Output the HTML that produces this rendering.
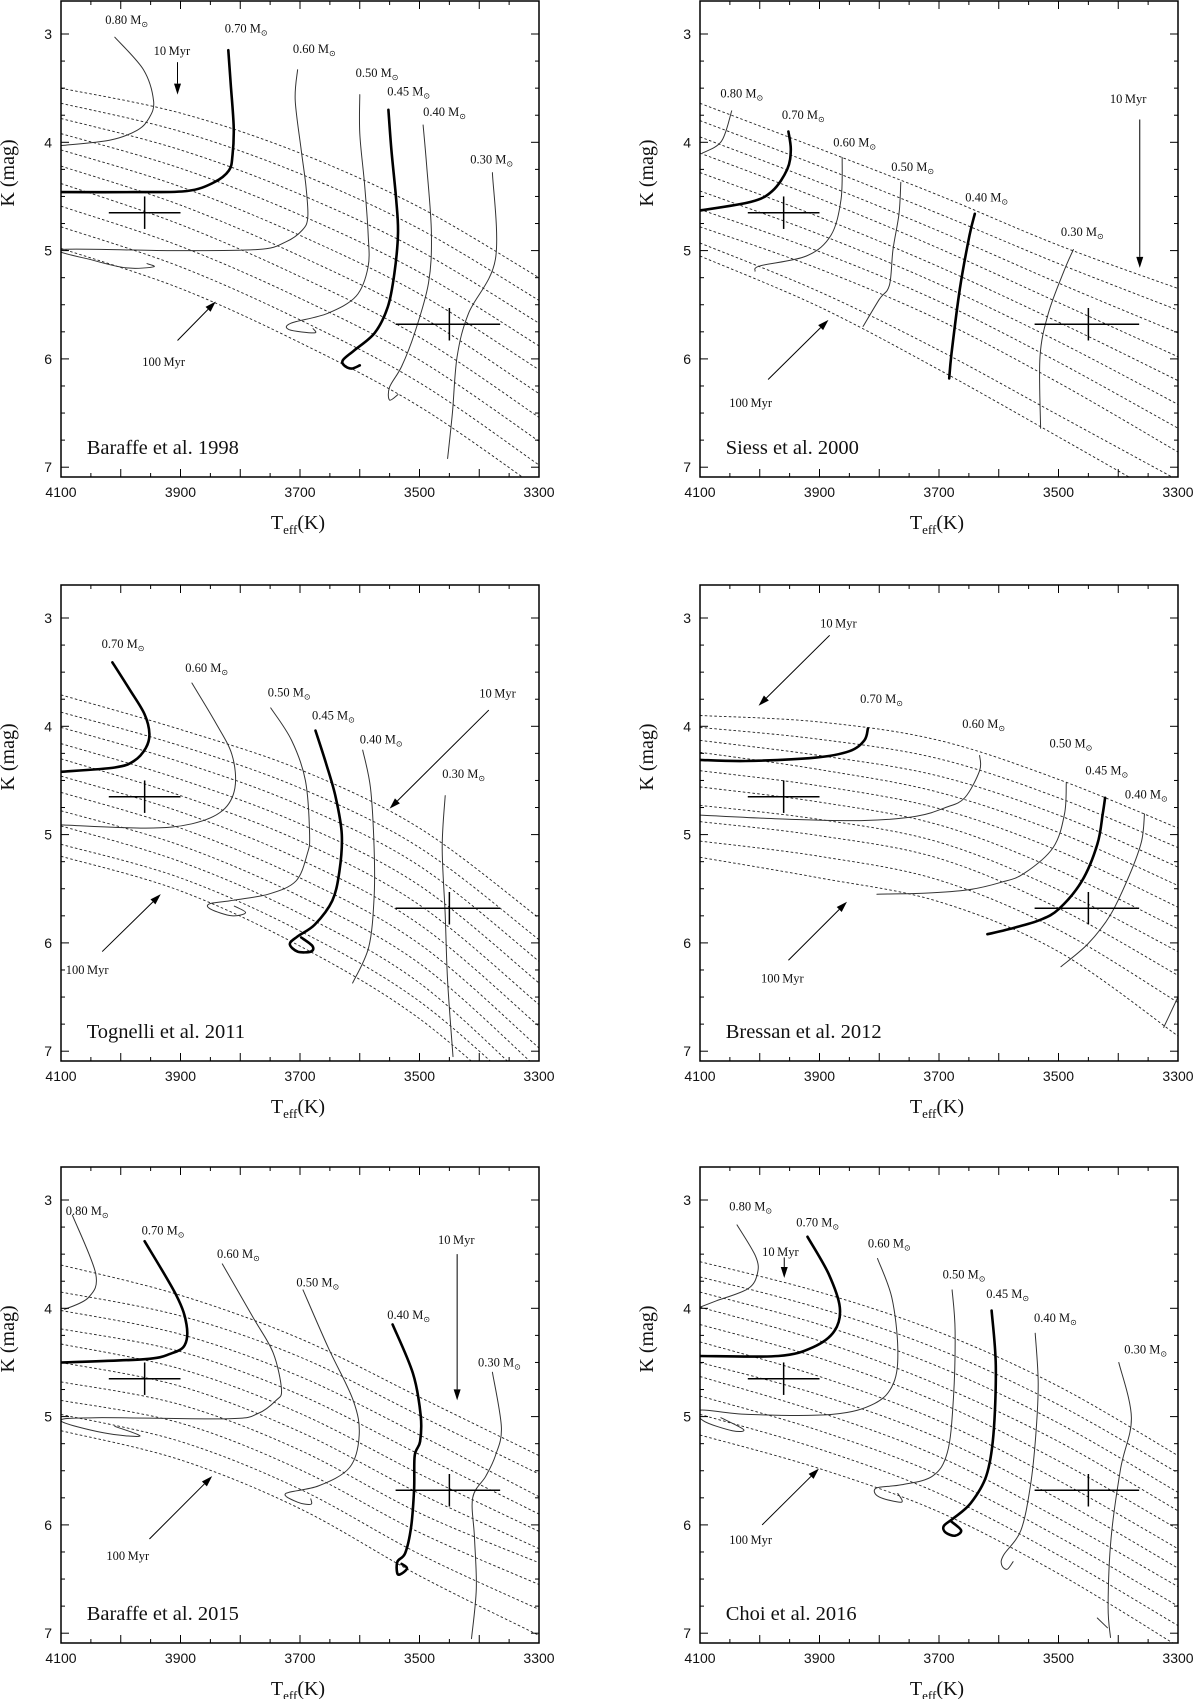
<!DOCTYPE html>
<html><head><meta charset="utf-8"><title>PMS tracks</title>
<style>
html,body{margin:0;padding:0;background:#fff;}
svg{display:block;}
.tick{font-family:"Liberation Sans",sans-serif;font-size:14px;fill:#111;}
.ser{font-family:"Liberation Serif",serif;fill:#111;}
</style></head>
<body>
<svg id="fig" width="1200" height="1699" viewBox="0 0 1200 1699" xmlns="http://www.w3.org/2000/svg"></svg>
<script>
const teffGrid = [4100, 3900, 3700, 3500, 3300];
const crossA = [3960, 4.65, 4020, 3900, 4.50, 4.80];
const crossB = [3450, 5.68, 3540, 3365, 5.53, 5.83];

const b98Iso = [
[3.50,3.73,4.10,4.60,5.25],[3.64,3.90,4.29,4.80,5.46],[3.78,4.07,4.48,5.00,5.67],
[3.92,4.24,4.67,5.20,5.88],[4.07,4.41,4.86,5.40,6.10],[4.22,4.58,5.05,5.60,6.32],
[4.38,4.76,5.24,5.80,6.54],[4.59,4.96,5.44,6.01,6.76],[4.78,5.15,5.64,6.22,6.98],
[4.98,5.35,5.85,6.44,7.20]];
const b98Tracks = [
{m:"0.80",w:1,p:[[4010,3.03],[3962,3.33],[3945,3.62],[3953,3.78],[3973,3.89],[4018,3.98],[4099,4.03]],l:[4026,2.87]},
{m:"0.70",w:2.6,p:[[3820,3.15],[3816,3.46],[3811,3.86],[3813,4.12],[3819,4.26],[3844,4.37],[3889,4.45],[3978,4.46],[4100,4.46]],l:[3826,2.95]},
{m:"0.60",w:1,p:[[3704,3.33],[3708,3.61],[3698,4.07],[3690,4.41],[3687,4.69],[3696,4.81],[3724,4.92],[3771,4.99],[3922,5.0],[4100,4.99],[4046,5.09],[3990,5.16],[3945,5.15],[3956,5.12]],l:[3712,3.14]},
{m:"0.50",w:1,p:[[3600,3.56],[3600,3.92],[3592,4.38],[3586,4.84],[3586,5.15],[3606,5.42],[3654,5.58],[3715,5.67],[3718,5.73],[3676,5.76],[3678,5.72]],l:[3607,3.36]},
{m:"0.45",w:2.6,p:[[3552,3.70],[3547,4.07],[3539,4.53],[3536,4.84],[3542,5.21],[3553,5.52],[3575,5.76],[3609,5.92],[3628,6.01],[3626,6.06],[3614,6.09],[3600,6.06]],l:[3554,3.53]},
{m:"0.40",w:1,p:[[3494,3.84],[3488,4.22],[3480,4.84],[3485,5.30],[3508,5.76],[3530,6.07],[3550,6.26],[3550,6.38],[3536,6.33]],l:[3494,3.72]},
{m:"0.30",w:1,p:[[3378,4.28],[3373,5.08],[3418,5.58],[3437,5.98],[3445,6.50],[3453,6.92]],l:[3415,4.16]}];
const b98Arrows = [{t:"10",a:[3905,3.26],b:[3905,3.56],l:[3945,3.15]},{t:"100",a:[3905,5.83],b:[3841,5.47],l:[3964,6.02]}];

const s00Iso = [
[3.64,4.06,4.49,4.95,5.35],[3.80,4.22,4.66,5.12,5.55],[3.95,4.37,4.82,5.30,5.76],
[4.10,4.52,4.98,5.48,5.98],[4.28,4.69,5.15,5.66,6.20],[4.45,4.85,5.31,5.84,6.42],
[4.62,5.01,5.47,6.03,6.64],[4.78,5.17,5.64,6.22,6.86],[4.93,5.38,5.92,6.52,7.12],
[5.05,5.52,6.10,6.72,7.35]];
const s00Tracks = [
{m:"0.80",w:1,p:[[4047,3.71],[4064,3.99],[4096,4.10]],l:[4066,3.55]},
{m:"0.70",w:2.6,p:[[3952,3.90],[3948,4.07],[3954,4.25],[3979,4.45],[4015,4.55],[4100,4.63]],l:[3963,3.75]},
{m:"0.60",w:1,p:[[3862,4.14],[3864,4.53],[3881,4.86],[3922,5.05],[3999,5.14],[4008,5.19]],l:[3877,4.0]},
{m:"0.50",w:1,p:[[3764,4.37],[3767,4.66],[3777,4.99],[3783,5.32],[3800,5.45],[3827,5.70]],l:[3780,4.23]},
{m:"0.40",w:2.6,p:[[3640,4.66],[3649,4.86],[3665,5.35],[3679,5.95],[3683,6.18]],l:[3656,4.51]},
{m:"0.30",w:1,p:[[3475,4.99],[3491,5.19],[3517,5.58],[3531,5.98],[3530,6.64]],l:[3496,4.83]}];
const s00Arrows = [{t:"10",a:[3364,3.79],b:[3364,5.16],l:[3414,3.59]},{t:"100",a:[3986,6.19],b:[3885,5.64],l:[4051,6.40]}];

const t11Iso = [
[3.71,4.03,4.40,4.94,5.77],[3.87,4.18,4.57,5.12,5.97],[4.01,4.33,4.73,5.29,6.17],
[4.16,4.49,4.90,5.47,6.37],[4.30,4.64,5.06,5.65,6.57],[4.46,4.79,5.23,5.83,6.77],
[4.61,4.94,5.40,6.01,6.97],[4.78,5.10,5.57,6.19,7.17],[4.92,5.25,5.73,6.37,7.37],
[5.09,5.40,5.89,6.54,7.50],[5.20,5.52,6.03,6.70,7.65]];
const t11Tracks = [
{m:"0.70",w:2.6,p:[[4014,3.41],[3984,3.67],[3960,3.89],[3952,4.07],[3958,4.20],[3978,4.32],[4010,4.38],[4100,4.42]],l:[4032,3.24]},
{m:"0.60",w:1,p:[[3881,3.60],[3843,3.95],[3814,4.26],[3809,4.57],[3830,4.78],[3881,4.90],[3958,4.94],[4100,4.91]],l:[3892,3.46]},
{m:"0.50",w:1,p:[[3749,3.83],[3714,4.13],[3691,4.50],[3684,5.00],[3688,5.18],[3707,5.43],[3753,5.55],[3817,5.61],[3852,5.64],[3849,5.69],[3814,5.75],[3791,5.72],[3810,5.66]],l:[3754,3.69]},
{m:"0.45",w:2.6,p:[[3674,4.04],[3656,4.35],[3640,4.66],[3630,5.00],[3634,5.34],[3646,5.61],[3675,5.83],[3704,5.94],[3717,6.01],[3704,6.08],[3682,6.08],[3679,6.03],[3698,5.95]],l:[3680,3.90]},
{m:"0.40",w:1,p:[[3595,4.22],[3582,4.57],[3576,5.12],[3576,5.58],[3585,6.04],[3612,6.37]],l:[3600,4.12]},
{m:"0.30",w:1,p:[[3457,4.64],[3462,5.12],[3457,5.74],[3453,6.35],[3444,7.05]],l:[3462,4.44]}];
const t11Arrows = [{t:"10",a:[3384,3.85],b:[3550,4.76],l:[3400,3.69]},{t:"100",a:[4031,6.08],b:[3933,5.55],l:[4092,6.24]}];

const b12Iso = [
[3.90,3.96,4.13,4.49,4.94],[4.01,4.12,4.30,4.66,5.12],[4.13,4.27,4.46,4.82,5.30],
[4.24,4.40,4.61,4.98,5.47],[4.41,4.55,4.76,5.15,5.67],[4.56,4.70,4.91,5.33,5.87],
[4.73,4.86,5.07,5.51,6.08],[4.88,5.01,5.22,5.68,6.30],[5.06,5.20,5.42,5.88,6.55],
[5.21,5.40,5.62,6.08,6.86]];
const b12Tracks = [
{m:"0.70",w:2.6,p:[[3819,4.02],[3825,4.13],[3850,4.23],[3908,4.29],[4024,4.32],[4100,4.31]],l:[3832,3.75]},
{m:"0.60",w:1,p:[[3632,4.27],[3632,4.41],[3657,4.66],[3689,4.75],[3738,4.83],[3825,4.87],[3947,4.86],[4100,4.82]],l:[3661,3.98]},
{m:"0.50",w:1,p:[[3487,4.52],[3490,4.81],[3509,5.12],[3558,5.36],[3596,5.44],[3651,5.51],[3722,5.54],[3804,5.55]],l:[3515,4.16]},
{m:"0.45",w:2.6,p:[[3422,4.66],[3426,4.81],[3435,5.09],[3461,5.43],[3500,5.69],[3532,5.79],[3574,5.86],[3619,5.92]],l:[3455,4.41]},
{m:"0.40",w:1,p:[[3356,4.81],[3361,5.06],[3381,5.37],[3413,5.74],[3451,6.01],[3496,6.22]],l:[3389,4.63]},
{m:"",w:1,p:[[3324,6.78],[3300,6.50]],l:null}];
const b12Arrows = [{t:"10",a:[3883,3.16],b:[4002,3.81],l:[3899,3.04]},{t:"100",a:[3952,6.16],b:[3854,5.62],l:[3998,6.32]}];

const b15Iso = [
[3.60,3.88,4.28,4.82,5.36],[3.85,4.07,4.45,4.99,5.53],[4.02,4.24,4.63,5.17,5.74],
[4.19,4.40,4.80,5.35,5.90],[4.33,4.56,4.97,5.53,6.06],[4.50,4.72,5.14,5.71,6.22],
[4.68,4.89,5.31,5.89,6.35],[4.85,5.06,5.49,6.07,6.55],[4.98,5.23,5.67,6.27,6.78],
[5.13,5.40,5.85,6.47,7.02]];
const b15Tracks = [
{m:"0.80",w:1,p:[[4081,3.14],[4042,3.68],[4054,3.90],[4094,4.01]],l:[4092,3.10]},
{m:"0.70",w:2.6,p:[[3960,3.38],[3907,3.88],[3890,4.15],[3893,4.34],[3917,4.42],[3960,4.47],[4100,4.50]],l:[3965,3.28]},
{m:"0.60",w:1,p:[[3830,3.59],[3778,4.09],[3745,4.41],[3731,4.75],[3740,4.85],[3770,4.97],[3820,5.02],[4042,5.01],[4100,5.04],[4029,5.15],[3968,5.18],[4010,5.09]],l:[3839,3.50]},
{m:"0.50",w:1,p:[[3695,3.83],[3653,4.36],[3611,4.85],[3601,5.17],[3617,5.47],[3669,5.64],[3724,5.71],[3704,5.79],[3682,5.81],[3682,5.76]],l:[3706,3.76]},
{m:"0.40",w:2.6,p:[[3545,4.15],[3511,4.60],[3498,4.99],[3499,5.23],[3508,5.36],[3509,5.67],[3514,6.02],[3524,6.26],[3537,6.34],[3537,6.45],[3530,6.45],[3521,6.40],[3530,6.36]],l:[3554,4.06]},
{m:"0.30",w:1,p:[[3378,4.59],[3363,5.10],[3373,5.36],[3389,5.55],[3411,5.75],[3408,6.12],[3405,6.59],[3413,7.05]],l:[3402,4.50]}];
const b15Arrows = [{t:"10",a:[3437,3.50],b:[3437,4.85],l:[3469,3.36]},{t:"100",a:[3952,6.13],b:[3847,5.55],l:[4024,6.28]}];

const c16Iso = [
[3.57,3.85,4.22,4.72,5.36],[3.71,4.00,4.38,4.89,5.52],[3.85,4.15,4.54,5.06,5.70],
[3.99,4.30,4.71,5.23,5.87],[4.15,4.46,4.87,5.41,6.04],[4.31,4.63,5.04,5.59,6.22],
[4.50,4.80,5.20,5.76,6.40],[4.63,4.96,5.37,5.94,6.57],[4.81,5.13,5.54,6.11,6.75],
[4.98,5.30,5.71,6.28,6.93],[5.17,5.48,5.88,6.45,7.12]];
const c16Tracks = [
{m:"0.80",w:1,p:[[4038,3.23],[4007,3.52],[4004,3.68],[4020,3.82],[4072,3.93],[4100,3.99]],l:[4051,3.06]},
{m:"0.70",w:2.6,p:[[3920,3.34],[3885,3.68],[3866,3.99],[3875,4.21],[3911,4.36],[3969,4.44],[4100,4.44]],l:[3939,3.21]},
{m:"0.60",w:1,p:[[3803,3.54],[3779,3.90],[3769,4.37],[3776,4.69],[3808,4.88],[3879,4.98],[4020,4.98],[4100,4.94],[4094,5.04],[4046,5.13],[4027,5.12],[4065,5.01]],l:[3819,3.40]},
{m:"0.50",w:1,p:[[3678,3.83],[3673,4.21],[3676,4.85],[3686,5.33],[3711,5.55],[3763,5.63],[3805,5.66],[3801,5.74],[3763,5.79],[3769,5.71]],l:[3694,3.69]},
{m:"0.45",w:2.6,p:[[3612,4.02],[3605,4.53],[3609,5.17],[3621,5.55],[3647,5.80],[3676,5.94],[3692,6.01],[3689,6.07],[3673,6.10],[3663,6.05],[3679,5.97]],l:[3621,3.87]},
{m:"0.40",w:1,p:[[3539,4.23],[3534,4.69],[3538,5.17],[3547,5.64],[3563,6.05],[3592,6.28],[3595,6.37],[3586,6.41],[3576,6.34]],l:[3541,4.09]},
{m:"0.30",w:1,p:[[3399,4.50],[3378,5.01],[3396,5.48],[3412,6.12],[3417,6.75],[3413,7.04]],l:[3390,4.38]},
{m:"",w:1,p:[[3435,6.86],[3418,6.95]],l:null}];
const c16Arrows = [{t:"10",a:[3959,3.53],b:[3959,3.72],l:[3996,3.47]},{t:"100",a:[3996,6.00],b:[3901,5.48],l:[4051,6.13]}];

const panelTitles = ["Baraffe et al.  1998","Siess et al.  2000","Tognelli et al.  2011","Bressan et al.  2012","Baraffe et al.  2015","Choi et al.  2016"];
const panelKeys = ["baraffe-1998","siess-2000","tognelli-2011","bressan-2012","baraffe-2015","choi-2016"];
const isoSets = [b98Iso, s00Iso, t11Iso, b12Iso, b15Iso, c16Iso];
const trackSets = [b98Tracks, s00Tracks, t11Tracks, b12Tracks, b15Tracks, c16Tracks];
const arrowSets = [b98Arrows, s00Arrows, t11Arrows, b12Arrows, b15Arrows, c16Arrows];
const xTickLabels = [4100, 3900, 3700, 3500, 3300];
const yTickLabels = [3, 4, 5, 6, 7];

const NS = "http://www.w3.org/2000/svg";
const svg = document.getElementById("fig");
const W = 478, H = 476;
function mk(tag, attrs, parent) {
  const e = document.createElementNS(NS, tag);
  for (const k in attrs) e.setAttribute(k, attrs[k]);
  parent.appendChild(e);
  return e;
}
function catmull(pts) {
  if (pts.length < 3) return "M" + pts.map(p => p[0].toFixed(1) + "," + p[1].toFixed(1)).join("L");
  let d = "M" + pts[0][0].toFixed(1) + "," + pts[0][1].toFixed(1);
  for (let i = 0; i < pts.length - 1; i++) {
    const p0 = pts[i - 1] || pts[i], p1 = pts[i], p2 = pts[i + 1], p3 = pts[i + 2] || p2;
    const c1 = [p1[0] + (p2[0] - p0[0]) / 6, p1[1] + (p2[1] - p0[1]) / 6];
    const c2 = [p2[0] - (p3[0] - p1[0]) / 6, p2[1] - (p3[1] - p1[1]) / 6];
    d += "C" + c1[0].toFixed(1) + "," + c1[1].toFixed(1) + " " + c2[0].toFixed(1) + "," + c2[1].toFixed(1) + " " + p2[0].toFixed(1) + "," + p2[1].toFixed(1);
  }
  return d;
}

for (let pi = 0; pi < 6; pi++) {
  const left = pi % 2 === 0 ? 61 : 700;
  const top = [1, 585, 1167][Math.floor(pi / 2)];
  const X = T => left + (4100 - T) / 800 * W;
  const Y = K => top + 33 + (K - 3) * 108.3;
  const g = mk("g", {}, svg);
  
  
  const clipId = "clip" + pi;
  const cp = mk("clipPath", {id: clipId}, g);
  mk("rect", {x: left, y: top, width: W, height: H}, cp);
  const plot = mk("g", {"clip-path": "url(#" + clipId + ")"}, g);

  isoSets[pi].forEach((iso, k) => {
    const pts = iso.map((K, j) => [X(teffGrid[j]), Y(K)]);
    const p = mk("path", {d: catmull(pts), fill: "none", stroke: "#222", "stroke-width": 0.9, "stroke-dasharray": "2.6,2.2"}, plot);
    
    
  });
  trackSets[pi].forEach(tr => {
    const pts = tr.p.map(q => [X(q[0]), Y(q[1])]);
    const p = mk("path", {d: catmull(pts), fill: "none", stroke: tr.w > 2 ? "#000" : "#333", "stroke-width": tr.w, "stroke-linejoin": "round", "stroke-linecap": "round"}, plot);
    
    
    if (tr.l) {
      const t = mk("text", {x: X(tr.l[0]), y: Y(tr.l[1]) + 4, "font-size": 12.5, class: "ser"}, g);
      t.textContent = tr.m + " M";
      const s = mk("tspan", {"font-size": 8, dy: 3}, t);
      s.textContent = "⊙";
      
      
    }
  });
  [crossA, crossB].forEach((c, ci) => {
    const cg = mk("g", {stroke: "#000", "stroke-width": 1.5}, plot);
    
    
    mk("line", {x1: X(c[2]), x2: X(c[3]), y1: Y(c[1]), y2: Y(c[1])}, cg);
    mk("line", {x1: X(c[0]), x2: X(c[0]), y1: Y(c[4]), y2: Y(c[5])}, cg);
  });
  arrowSets[pi].forEach(ar => {
    const x1 = X(ar.a[0]), y1 = Y(ar.a[1]), x2 = X(ar.b[0]), y2 = Y(ar.b[1]);
    const ag = mk("g", {}, g);
    
    
    const ang = Math.atan2(y2 - y1, x2 - x1), L = 11, Wd = 3.5;
    const bx = x2 - L * Math.cos(ang), by = y2 - L * Math.sin(ang);
    mk("line", {x1: x1, y1: y1, x2: bx, y2: by, stroke: "#000", "stroke-width": 1}, ag);
    const pts = [[x2, y2], [bx + Wd * Math.sin(ang), by - Wd * Math.cos(ang)], [bx - Wd * Math.sin(ang), by + Wd * Math.cos(ang)]];
    mk("polygon", {points: pts.map(p => p.join(",")).join(" "), fill: "#000"}, ag);
    const t = mk("text", {x: X(ar.l[0]), y: Y(ar.l[1]) + 5, "font-size": 12.5, class: "ser"}, g);
    t.textContent = ar.t + "\u2009Myr";
    
    
  });
  const fr = mk("rect", {x: left, y: top, width: W, height: H, fill: "none", stroke: "#000", "stroke-width": 1.5}, g);
  
  
  const tk = mk("g", {stroke: "#000", "stroke-width": 1}, g);
  
  
  for (let T = 4100; T >= 3300; T -= 50) {
    const len = T % 100 === 0 ? 8 : 4, x = X(T);
    mk("line", {x1: x, x2: x, y1: top + H, y2: top + H - len}, tk);
    mk("line", {x1: x, x2: x, y1: top, y2: top + len}, tk);
  }
  for (let K = 3; K <= 7.001; K += 0.25) {
    const len = Math.abs(K - Math.round(K)) < 0.01 ? 8 : 4, y = Y(K);
    mk("line", {x1: left, x2: left + len, y1: y, y2: y}, tk);
    mk("line", {x1: left + W, x2: left + W - len, y1: y, y2: y}, tk);
  }
  xTickLabels.forEach(T => {
    const t = mk("text", {x: X(T), y: top + H + 20, "text-anchor": "middle", class: "tick"}, g);
    t.textContent = T;
    
    
  });
  yTickLabels.forEach(K => {
    const t = mk("text", {x: left - 9, y: Y(K) + 5, "text-anchor": "end", class: "tick"}, g);
    t.textContent = K;
    
    
  });
  const xt = mk("text", {x: left + W / 2 - 2, y: top + H + 52, "text-anchor": "middle", "font-size": 20, class: "ser"}, g);
  xt.textContent = "T";
  const sub = mk("tspan", {"font-size": 13, dy: 5}, xt);
  sub.textContent = "eff";
  const rest = mk("tspan", {dy: -5}, xt);
  rest.textContent = "(K)";
  
  
  const yx = left - 47, yy = top + 172;
  const yt = mk("text", {x: yx, y: yy, "text-anchor": "middle", "font-size": 20, class: "ser", transform: "rotate(-90 " + yx + " " + yy + ")"}, g);
  yt.textContent = "K (mag)";
  
  
  const tt = mk("text", {x: X(4057), y: Y(6.84) + 4, "font-size": 20.5, class: "ser"}, g);
  tt.textContent = panelTitles[pi];
  
  
}
</script>
</body></html>
